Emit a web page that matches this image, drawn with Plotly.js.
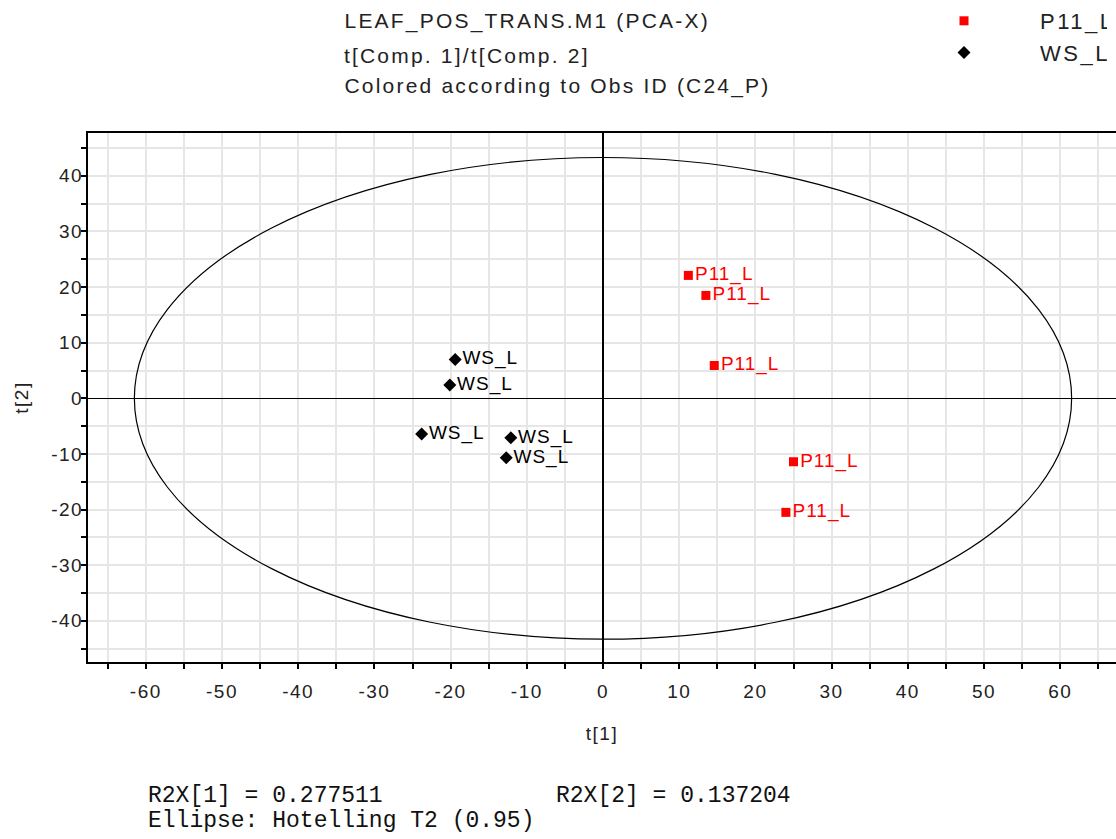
<!DOCTYPE html>
<html>
<head>
<meta charset="utf-8">
<script src="https://cdn.plot.ly/plotly-3.0.1.min.js"></script>
<style>
html,body{margin:0;padding:0;overflow:hidden;background:#fff;}
#chart{width:1116px;height:839px;}
#chart .annotation[data-index="0"] text,
#chart .annotation[data-index="1"] text,
#chart .annotation[data-index="2"] text{letter-spacing:2.2px;}
#chart .legendtext{letter-spacing:2.5px;}
#chart .textpoint text{letter-spacing:1px;}
#chart .xtick text, #chart .ytick text{letter-spacing:1.5px;}
#chart .g-xtitle text, #chart .g-ytitle text{letter-spacing:1.5px;}
</style>
</head>
<body>
<div id="chart"></div>
<script>
// Data
const p11Name = "P11_L";
const p11X = [11.2, 13.5, 14.6, 25.0, 24.0];
const p11Y = [22.1, 18.5, 5.9, -11.4, -20.5];
const p11Labels = ["P11_L", "P11_L", "P11_L", "P11_L", "P11_L"];

const wsName = "WS_L";
const wsX = [-19.4, -20.1, -23.8, -12.1, -12.7];
const wsY = [7.0, 2.4, -6.4, -7.1, -10.7];
const wsLabels = ["WS_L", "WS_L", "WS_L", "WS_L", "WS_L"];

// Hotelling T2 (0.95) ellipse semi-axes
const ellipseA = 61.5;
const ellipseB = 43.3;

// Tick positions and labels
const xTickVals = [-65, -60, -55, -50, -45, -40, -35, -30, -25, -20, -15, -10, -5, 0, 5, 10, 15, 20, 25, 30, 35, 40, 45, 50, 55, 60, 65];
const xTickText = ["", "-60", "", "-50", "", "-40", "", "-30", "", "-20", "", "-10", "", "0", "", "10", "", "20", "", "30", "", "40", "", "50", "", "60", ""];
const yTickVals = [-45, -40, -35, -30, -25, -20, -15, -10, -5, 0, 5, 10, 15, 20, 25, 30, 35, 40, 45];
const yTickText = ["", "-40", "", "-30", "", "-20", "", "-10", "", "0", "", "10", "", "20", "", "30", "", "40", ""];

const titleLines = [
  "LEAF_POS_TRANS.M1 (PCA-X)",
  "t[Comp. 1]/t[Comp. 2]",
  "Colored according to Obs ID (C24_P)"
];
const r2x1 = "R2X[1] = 0.277511";
const r2x2 = "R2X[2] = 0.137204";
const ellipseNote = "Ellipse: Hotelling T2 (0.95)";

const W = 1116, H = 839;
const mL = 88, mR = 0, mT = 131, mB = 177;
const pw = W - mL - mR, ph = H - mT - mB;
const px = v => (v - mL) / pw;
const py = v => (H - mB - v) / ph;

// title letter spacing widens text symmetrically; compensate so lines start at the same x
const titleSpacing = 2.2;
const titleX = s => px(342 + s.length * titleSpacing / 2);
const titleYs = [19, 53, 84];

const labelFont = {family: "Liberation Sans, Arial, sans-serif", size: 19};

const traces = [
  {
    type: "scatter", mode: "markers+text", name: p11Name,
    x: p11X, y: p11Y, text: p11Labels, textposition: "middle right",
    marker: {symbol: "square", size: 9, color: "#ff0000"},
    textfont: Object.assign({}, labelFont, {color: "#ff0000"}),
    cliponaxis: false
  },
  {
    type: "scatter", mode: "markers+text", name: wsName,
    x: wsX, y: wsY, text: wsLabels, textposition: "middle right",
    marker: {symbol: "diamond", size: 10, color: "#000000"},
    textfont: Object.assign({}, labelFont, {color: "#000000"}),
    cliponaxis: false
  }
];

const gridColor = "#e6e6e6";
const tickFont = {family: "Liberation Sans, Arial, sans-serif", size: 19, color: "#222"};
const monoFont = {family: "Liberation Mono, Courier New, monospace", size: 23, color: "#111"};

const layout = {
  width: W, height: H,
  margin: {l: mL, r: mR, t: mT, b: mB, pad: 0},
  paper_bgcolor: "#fff", plot_bgcolor: "#fff",
  font: {family: "Liberation Sans, Arial, sans-serif", color: "#222"},
  showlegend: true,
  legend: {
    x: px(888), y: py(-3), xanchor: "left", yanchor: "top",
    font: {size: 22, color: "#222"}, itemwidth: 142,
    bgcolor: "rgba(0,0,0,0)", tracegroupgap: 0
  },
  xaxis: {
    range: [(mL - 603) / 7.62, (W - mR - 603) / 7.62],
    tickmode: "array", tickvals: xTickVals, ticktext: xTickText,
    showgrid: true, gridcolor: gridColor, gridwidth: 2,
    zeroline: true, zerolinecolor: "#000", zerolinewidth: 1.5,
    showline: true, linecolor: "#000", linewidth: 2, mirror: true,
    ticks: "outside", ticklen: 5, tickwidth: 2, tickcolor: "#000",
    tickfont: tickFont, ticklabelstandoff: 6,
    title: {text: "t[1]", font: {size: 19, color: "#222"}, standoff: 26}
  },
  yaxis: {
    range: [-47.4, 47.7],
    tickmode: "array", tickvals: yTickVals, ticktext: yTickText,
    showgrid: true, gridcolor: gridColor, gridwidth: 2,
    zeroline: true, zerolinecolor: "#000", zerolinewidth: 1.5,
    showline: true, linecolor: "#000", linewidth: 2, mirror: false,
    ticks: "outside", ticklen: 5, tickwidth: 2, tickcolor: "#000",
    tickfont: tickFont, ticklabelstandoff: -6,
    title: {text: "t[2]", font: {size: 19, color: "#222"}, standoff: 22}
  },
  shapes: [
    {type: "circle", xref: "x", yref: "y", x0: -ellipseA, x1: ellipseA, y0: -ellipseB, y1: ellipseB,
     line: {color: "#000", width: 1.2}}
  ],
  annotations: [
    {text: titleLines[0], xref: "paper", yref: "paper", x: titleX(titleLines[0]), y: py(titleYs[0]), xanchor: "left", yanchor: "middle", showarrow: false, font: {size: 21, color: "#222"}},
    {text: titleLines[1], xref: "paper", yref: "paper", x: titleX(titleLines[1]), y: py(titleYs[1]), xanchor: "left", yanchor: "middle", showarrow: false, font: {size: 21, color: "#222"}},
    {text: titleLines[2], xref: "paper", yref: "paper", x: titleX(titleLines[2]), y: py(titleYs[2]), xanchor: "left", yanchor: "middle", showarrow: false, font: {size: 21, color: "#222"}},
    {text: r2x1, xref: "paper", yref: "paper", x: px(146), y: py(797), xanchor: "left", yanchor: "middle", showarrow: false, font: monoFont},
    {text: r2x2, xref: "paper", yref: "paper", x: px(554), y: py(797), xanchor: "left", yanchor: "middle", showarrow: false, font: monoFont},
    {text: ellipseNote, xref: "paper", yref: "paper", x: px(146), y: py(822), xanchor: "left", yanchor: "middle", showarrow: false, font: monoFont}
  ]
};

Plotly.newPlot("chart", traces, layout, {displayModeBar: false, staticPlot: true});
</script>
</body>
</html>
